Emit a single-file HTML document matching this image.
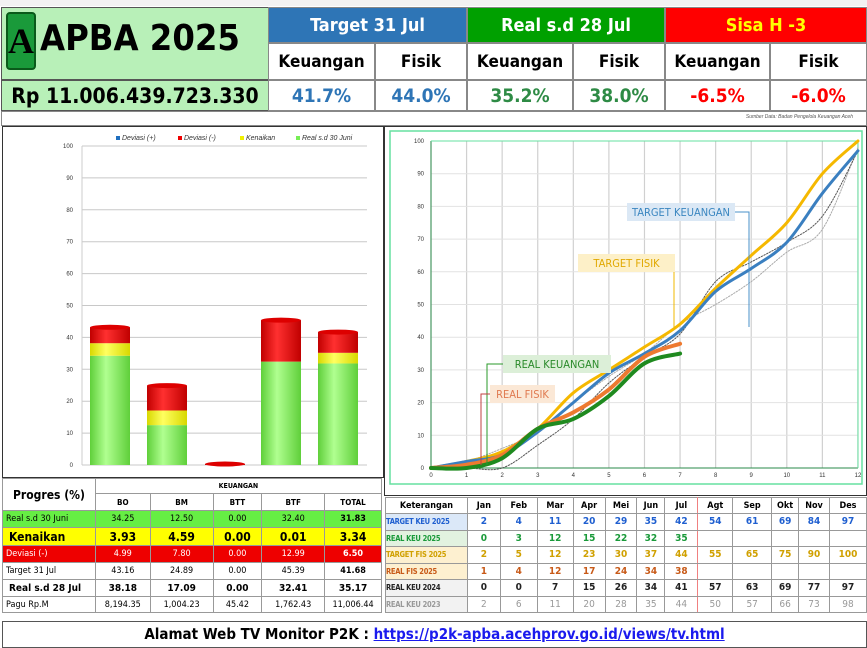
<!DOCTYPE html>
<html><head><meta charset="utf-8"><style>
*{margin:0;padding:0;box-sizing:border-box}
body{width:867px;height:648px;background:#fff;position:relative;overflow:hidden;font-family:"Liberation Sans",sans-serif}
.a{position:absolute}
.c{position:absolute;display:flex;align-items:center;justify-content:center;border:1px solid #888;}
table{border-collapse:collapse;position:absolute;font-family:"DejaVu Sans Condensed","DejaVu Sans",sans-serif}
td{border:1px solid #999;text-align:center;padding:0;white-space:nowrap;overflow:hidden}
</style></head><body>
<div class="a" style="left:0;top:0;width:867px;height:6px;background:#f2f2f2"></div>
<!-- header -->
<div class="c" style="left:1px;top:7px;width:268px;height:73px;background:#b8f0b8;border-color:#555"></div>
<div class="a" style="left:6px;top:12px;width:30px;height:58px;background:#1a9a3a;border:2px solid #0a5a1a;border-radius:4px;overflow:hidden;color:#000;font:bold 36px 'Liberation Serif',serif;text-align:center;line-height:54px">A</div>
<div class="a" style="left:40px;top:18px;font:bold 36px 'DejaVu Sans Condensed','Liberation Sans',sans-serif;color:#000">APBA 2025</div>
<div class="c" style="left:1px;top:80px;width:268px;height:31px;background:#b8f0b8;border-color:#555;font:bold 21px 'DejaVu Sans Condensed',sans-serif">Rp 11.006.439.723.330</div>
<div class="c" style="left:268px;top:7px;width:199px;height:36px;background:#2e75b6;color:#fff;font:bold 18px 'DejaVu Sans Condensed',sans-serif">Target 31 Jul</div>
<div class="c" style="left:467px;top:7px;width:198px;height:36px;background:#00a000;color:#fff;font:bold 18px 'DejaVu Sans Condensed',sans-serif">Real s.d 28 Jul</div>
<div class="c" style="left:665px;top:7px;width:202px;height:36px;background:#ff0000;color:#ffff00;font:bold 18px 'DejaVu Sans Condensed',sans-serif">Sisa H -3</div>
<div class="c" style="left:268px;top:43px;width:107px;height:37px;font:bold 17px 'DejaVu Sans Condensed',sans-serif">Keuangan</div>
<div class="c" style="left:375px;top:43px;width:92px;height:37px;font:bold 17px 'DejaVu Sans Condensed',sans-serif">Fisik</div>
<div class="c" style="left:467px;top:43px;width:106px;height:37px;font:bold 17px 'DejaVu Sans Condensed',sans-serif">Keuangan</div>
<div class="c" style="left:573px;top:43px;width:92px;height:37px;font:bold 17px 'DejaVu Sans Condensed',sans-serif">Fisik</div>
<div class="c" style="left:665px;top:43px;width:105px;height:37px;font:bold 17px 'DejaVu Sans Condensed',sans-serif">Keuangan</div>
<div class="c" style="left:770px;top:43px;width:97px;height:37px;font:bold 17px 'DejaVu Sans Condensed',sans-serif">Fisik</div>
<div class="c" style="left:268px;top:80px;width:107px;height:31px;font:bold 19px 'DejaVu Sans Condensed',sans-serif;color:#2e75b6">41.7%</div>
<div class="c" style="left:375px;top:80px;width:92px;height:31px;font:bold 19px 'DejaVu Sans Condensed',sans-serif;color:#2e75b6">44.0%</div>
<div class="c" style="left:467px;top:80px;width:106px;height:31px;font:bold 19px 'DejaVu Sans Condensed',sans-serif;color:#2e8b45">35.2%</div>
<div class="c" style="left:573px;top:80px;width:92px;height:31px;font:bold 19px 'DejaVu Sans Condensed',sans-serif;color:#2e8b45">38.0%</div>
<div class="c" style="left:665px;top:80px;width:105px;height:31px;font:bold 19px 'DejaVu Sans Condensed',sans-serif;color:#ff0000">-6.5%</div>
<div class="c" style="left:770px;top:80px;width:97px;height:31px;font:bold 19px 'DejaVu Sans Condensed',sans-serif;color:#ff0000">-6.0%</div>
<div class="a" style="left:1px;top:111px;width:866px;height:15px;border:1px solid #888"></div>
<div class="a" style="right:14px;top:114px;font:italic 5px sans-serif;color:#555">Sumber Data: Badan Pengelola Keuangan Aceh</div>
<!-- main frames -->
<div class="a" style="left:2px;top:126px;width:382px;height:352px;border:1px solid #333"></div>
<div class="a" style="left:384px;top:126px;width:483px;height:370px;border:1px solid #333"></div>

<svg class="a" style="left:0;top:0" width="867" height="648" id="sv">
<g font-family="Liberation Sans,sans-serif" font-size="6" fill="#333" id="bar"></g>
<g id="line"></g>
</svg>

<!-- left table -->
<table style="left:2px;top:478px;width:380px;font-size:9px">
<tr style="height:15px"><td rowspan="2" style="width:93px;font:bold 12px 'DejaVu Sans Condensed',sans-serif">Progres (%)</td><td colspan="5" style="font-weight:bold;font-size:7px">KEUANGAN</td></tr>
<tr style="height:17px;font-weight:bold;font-size:8px"><td style="width:55px">BO</td><td style="width:63px">BM</td><td style="width:49px">BTT</td><td style="width:63px">BTF</td><td style="width:57px">TOTAL</td></tr>
<tr style="height:17px;background:#66ee44"><td style="text-align:left;padding-left:3px">Real s.d 30 Juni</td><td>34.25</td><td>12.50</td><td>0.00</td><td>32.40</td><td><b>31.83</b></td></tr>
<tr style="height:18px;background:#ffff00;font-weight:bold;font-size:12px"><td style="text-align:left;padding-left:6px">Kenaikan</td><td>3.93</td><td>4.59</td><td>0.00</td><td>0.01</td><td>3.34</td></tr>
<tr style="height:17px;background:#ee0000;color:#fff"><td style="text-align:left;padding-left:3px">Deviasi (-)</td><td>4.99</td><td>7.80</td><td>0.00</td><td>12.99</td><td><b>6.50</b></td></tr>
<tr style="height:17px"><td style="text-align:left;padding-left:3px">Target 31 Jul</td><td>43.16</td><td>24.89</td><td>0.00</td><td>45.39</td><td><b>41.68</b></td></tr>
<tr style="height:17px;font-weight:bold;font-size:10px"><td style="text-align:left;padding-left:6px">Real s.d 28 Jul</td><td>38.18</td><td>17.09</td><td>0.00</td><td>32.41</td><td>35.17</td></tr>
<tr style="height:16px"><td style="text-align:left;padding-left:3px">Pagu Rp.M</td><td>8,194.35</td><td>1,004.23</td><td>45.42</td><td>1,762.43</td><td>11,006.44</td></tr>
</table>

<!-- right table -->
<table style="left:385px;top:497px;width:482px;font-size:9px;font-weight:bold" id="rt"></table>

<div class="a" style="left:2px;top:621px;width:865px;height:27px;border:1px solid #555;text-align:center;font:bold 15px 'DejaVu Sans Condensed',sans-serif;line-height:25px">Alamat Web TV Monitor P2K : <span style="color:#1a1aee;text-decoration:underline">https://p2k-apba.acehprov.go.id/views/tv.html</span></div>

<script>
var NS="http://www.w3.org/2000/svg";
function el(p,t,a,txt){var e=document.createElementNS(NS,t);for(var k in a)e.setAttribute(k,a[k]);if(txt!=null)e.textContent=txt;p.appendChild(e);return e;}
var b=document.getElementById('bar');
function BY(v){return 465-v*3.19;}
for(var v=0;v<=100;v+=10){el(b,'line',{x1:82,x2:367,y1:BY(v),y2:BY(v),stroke:'#c8c8c8','stroke-width':1});el(b,'text',{x:73,y:BY(v)+2,'text-anchor':'end'},v);}
el(b,'line',{x1:82,x2:82,y1:BY(100),y2:BY(0),stroke:'#ccc'});
var leg=[['#1f6fbf','Deviasi (+)',116],['#ee0000','Deviasi  (-)',178],['#f0f000','Kenaikan',240],['#77ee55','Real s.d 30 Juni',296]];
leg.forEach(function(l){el(b,'rect',{x:l[2],y:136,width:4,height:4,fill:l[0]});el(b,'text',{x:l[2]+6,y:140,'font-style':'italic','font-size':'7'},l[1]);});
var bars=[[90,34.25,3.93,4.99],[147,12.5,4.59,7.8],[205,0,0,0.3],[261,32.4,0.01,12.99],[318,31.83,3.34,6.5]];
var defs=el(document.getElementById('sv'),'defs',{});
[['g','#5fcf3a','#b0ff90'],['y','#d8d800','#ffff60'],['r','#c00000','#ff3030']].forEach(function(c){var lg=el(defs,'linearGradient',{id:c[0]});el(lg,'stop',{offset:'0',"stop-color":c[1]});el(lg,'stop',{offset:'0.4',"stop-color":c[2]});el(lg,'stop',{offset:'1',"stop-color":c[1]});});
bars.forEach(function(d){var x=d[0],w=40,base=0;[['g',d[1]],['y',d[2]],['r',d[3]]].forEach(function(s){if(s[1]<=0)return;var y1=BY(base),y2=BY(base+s[1]);el(b,'rect',{x:x,y:y2,width:w,height:y1-y2,fill:'url(#'+s[0]+')'});base+=s[1];});
 var top=BY(base);el(b,'ellipse',{cx:x+w/2,cy:top,rx:w/2,ry:2.5,fill:'#dd0000'});});
var L=document.getElementById('line');
function X(i){return 431+i*35.58;}function Y(v){return 468-v*3.27;}
el(L,'rect',{x:390,y:131,width:472,height:353,fill:'none',stroke:'#66e0a0','stroke-width':1.5});
for(var i=0;i<=12;i++){el(L,'line',{x1:X(i),x2:X(i),y1:Y(100),y2:Y(0),stroke:'#d0d0d0','stroke-width':1.2});el(L,'text',{x:X(i),y:477,'font-size':6,'text-anchor':'middle',fill:'#333','font-family':'Liberation Sans'},i);}
for(var v=0;v<=100;v+=10){el(L,'line',{x1:X(0),x2:X(12),y1:Y(v),y2:Y(v),stroke:'#e2e2e2'});el(L,'text',{x:424,y:Y(v)+2,'font-size':6,'text-anchor':'end',fill:'#333','font-family':'Liberation Sans'},v);}
el(L,'line',{x1:X(0),x2:X(0),y1:Y(100),y2:Y(0),stroke:'#2a8a4a','stroke-width':1});
el(L,'line',{x1:X(0),x2:X(12),y1:Y(0),y2:Y(0),stroke:'#2a8a4a','stroke-width':1});
el(L,'line',{x1:X(0),x2:X(12),y1:Y(100),y2:Y(100),stroke:'#66e0a0','stroke-width':1});
el(L,'line',{x1:X(12),x2:X(12),y1:Y(100),y2:Y(0),stroke:'#66e0a0','stroke-width':1});
function path(a){var p=a.map(function(v,i){return [X(i),Y(v)];});var d='M'+p[0][0]+','+p[0][1];for(var i=0;i<p.length-1;i++){var p0=p[i-1]||p[i],p1=p[i],p2=p[i+1],p3=p[i+2]||p2;var t=6;d+=' C'+(p1[0]+(p2[0]-p0[0])/t)+','+(p1[1]+(p2[1]-p0[1])/t)+' '+(p2[0]-(p3[0]-p1[0])/t)+','+(p2[1]-(p3[1]-p1[1])/t)+' '+p2[0]+','+p2[1];}return d;}
function line(a,c,w,dash){var o={d:path(a),fill:'none',stroke:c,'stroke-width':w,'stroke-linecap':'round'};if(dash)o['stroke-dasharray']=dash;el(L,'path',o);}
line([0,2,6,11,20,28,35,44,50,57,66,73,98],'#aaa',1,'1.5,1.5');
line([0,0,0,7,15,26,34,41,57,63,69,77,97],'#555',1,'1.5,1.5');
line([0,2,5,12,23,30,37,44,55,65,75,90,100],'#f5b800',3);
line([0,2,4,11,20,29,35,42,54,61,69,84,97],'#3a7fc0',3);
line([0,1,4,12,17,24,34,38],'#ee7a30',4);
line([0,0,3,12,15,22,32,35],'#1f8a1f',4);
function lab(x,y,w,txt,bg,col,lc,pts){el(L,'polyline',{points:pts,fill:'none',stroke:lc,'stroke-width':1});el(L,'rect',{x:x,y:y,width:w,height:18,fill:bg});el(L,'text',{x:x+w/2,y:y+13,'text-anchor':'middle','font-size':11,fill:col,'font-family':'DejaVu Sans Condensed,Liberation Sans'},txt);}
lab(627,203,108,'TARGET KEUANGAN','#dbe8f5','#3a86c0','#4a90c8','735,212 749,212 749,327');
lab(578,254,97,'TARGET FISIK','#fdf0c8','#e0a800','#f0b800','675,262 674,262 674,329');
lab(503,355,108,'REAL KEUANGAN','#dcefd8','#2a8a2a','#2a9a2a','503,364 487,364 487,465');
lab(490,385,65,'REAL FISIK','#fbe8d6','#e07a50','#c04040','490,394 481,394 481,465');
var rows=[['Keterangan','Jan','Feb','Mar','Apr','Mei','Jun','Jul','Agt','Sep','Okt','Nov','Des'],
['TARGET KEU 2025',2,4,11,20,29,35,42,54,61,69,84,97],
['REAL KEU 2025',0,3,12,15,22,32,35,'','','','',''],
['TARGET FIS 2025',2,5,12,23,30,37,44,55,65,75,90,100],
['REAL FIS 2025',1,4,12,17,24,34,38,'','','','',''],
['REAL KEU 2024',0,0,7,15,26,34,41,57,63,69,77,97],
['REAL KEU 2023',2,6,11,20,28,35,44,50,57,66,73,98]];
var cols=['#000','#1f5fd0','#1a9a3a','#d0a000','#c85a18','#222','#999'];
var bgs=['#fff','#dbe8f8','#e2f2e0','#fdf0d0','#fdf0d0','#f2f2f2','#f2f2f2'];
var ws=[82,33,37,36,32,32,28,33,35,39,27,31,37];
var t=document.getElementById('rt');
rows.forEach(function(r,ri){var tr=document.createElement('tr');tr.style.height=ri==0?'16px':'16.5px';r.forEach(function(c,ci){var td=document.createElement('td');td.textContent=c;td.style.width=ws[ci]+'px';td.style.color=cols[ri];if(ri==6&&ci>0)td.style.fontWeight='normal';if(ri>0&&ci==0){td.style.background=bgs[ri];td.style.textAlign='left';td.style.fontSize='7.5px';td.style.letterSpacing='-0.3px';}if(ri==0)td.style.fontSize='9px';else if(ci>0)td.style.fontSize='10px';if(ci==7){td.style.borderLeft='1px solid #f08080';td.style.borderRight='1px solid #f08080';}tr.appendChild(td);});t.appendChild(tr);});
</script>
</body></html>
